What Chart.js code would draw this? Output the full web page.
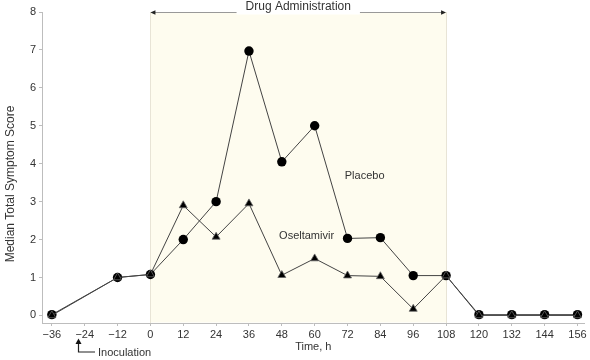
<!DOCTYPE html>
<html><head><meta charset="utf-8">
<script src="https://cdn.jsdelivr.net/npm/chart.js@4/dist/chart.umd.min.js"></script>
<style>html,body{margin:0;padding:0;background:#fff;overflow:hidden;}</style>
</head><body>
<canvas id="c" width="590" height="360" style="width:590px;height:360px;display:block"></canvas>
<script>
// ---- data ----
const hours       = [-36, -12, 0, 12, 24, 36, 48, 60, 72, 84, 96, 108, 120, 132, 144, 156];
const placebo     = [0.02, 1.0, 1.08, 2.0, 3.0, 6.97, 4.05, 5.0, 2.03, 2.05, 1.05, 1.05, 0.02, 0.02, 0.02, 0.02];
const oseltamivir = [0.0, 1.0, 1.08, 2.9, 2.07, 2.95, 1.06, 1.5, 1.05, 1.03, 0.17, 1.05, 0.0, 0.0, 0.0, 0.0];
const xTicks = [-36, -24, -12, 0, 12, 24, 36, 48, 60, 72, 84, 96, 108, 120, 132, 144, 156];
const yTicks = [0, 1, 2, 3, 4, 5, 6, 7, 8];
const dosingStart = 0, dosingEnd = 108;
const dosingLabel = 'Drug Administration';
const yTitle = 'Median Total Symptom Score';
const seriesLabels = [
  {text: 'Placebo', x: 71, y: 3.68},
  {text: 'Oseltamivir', x: 47, y: 2.1}
];
const inoculationHour = -26.3;
const inoculationLabel = 'Inoculation';

const FONT = '"Liberation Sans", Arial, Helvetica, sans-serif';
const TXT = '#333';
const AXIS = '#bdbdbd';

const toPts = (vals) => hours.map((h, i) => ({x: h, y: vals[i]}));
const fmt = (v) => v < 0 ? '\u2212' + Math.abs(v) : String(v);

const decor = {
  id: 'decor',
  beforeDatasetsDraw(chart) {
    const {ctx, chartArea: ca, scales: {x}} = chart;
    const x0 = x.getPixelForValue(dosingStart), x1 = x.getPixelForValue(dosingEnd);
    ctx.save();
    ctx.fillStyle = '#fefcef';
    ctx.fillRect(x0, ca.top, x1 - x0, ca.bottom - ca.top - 0.5);
    ctx.strokeStyle = '#e8e4d6';
    ctx.lineWidth = 1;
    ctx.beginPath();
    ctx.moveTo(Math.round(x0) + 0.5, ca.top); ctx.lineTo(Math.round(x0) + 0.5, ca.bottom);
    ctx.moveTo(Math.round(x1) + 0.5, ca.top); ctx.lineTo(Math.round(x1) + 0.5, ca.bottom);
    ctx.stroke();
    ctx.restore();
  },
  afterDatasetsDraw(chart) {
    const {ctx, chartArea: ca, scales: {x, y}} = chart;
    const x0 = x.getPixelForValue(dosingStart), x1 = x.getPixelForValue(dosingEnd);
    const ty = ca.top + 0.5;
    ctx.save();
    // top arrow line
    ctx.strokeStyle = '#999'; ctx.lineWidth = 1;
    ctx.beginPath(); ctx.moveTo(x0 + 2, ty); ctx.lineTo(x1 - 2, ty); ctx.stroke();
    ctx.fillStyle = '#222';
    ctx.beginPath(); ctx.moveTo(x0, ty); ctx.lineTo(x0 + 5, ty - 2.2); ctx.lineTo(x0 + 5, ty + 2.2); ctx.closePath(); ctx.fill();
    ctx.beginPath(); ctx.moveTo(x1, ty); ctx.lineTo(x1 - 5, ty - 2.2); ctx.lineTo(x1 - 5, ty + 2.2); ctx.closePath(); ctx.fill();
    // label with white background
    ctx.font = '12px ' + FONT;
    ctx.textAlign = 'center'; ctx.textBaseline = 'middle';
    const cx = (x0 + x1) / 2;
    const w = ctx.measureText(dosingLabel).width;
    ctx.fillStyle = '#fff';
    ctx.fillRect(cx - w / 2 - 9, 0, w + 18, ty + 2);
    ctx.fillStyle = TXT;
    ctx.fillText(dosingLabel, cx, 7);
    // series labels
    ctx.font = '11px ' + FONT;
    ctx.textAlign = 'left';
    seriesLabels.forEach(l => ctx.fillText(l.text, x.getPixelForValue(l.x), y.getPixelForValue(l.y)));
    // inoculation arrow
    const ax = Math.round(x.getPixelForValue(inoculationHour)) + 0.5;
    ctx.strokeStyle = '#222'; ctx.lineWidth = 1.2;
    ctx.beginPath(); ctx.moveTo(ax, 343); ctx.lineTo(ax, 352); ctx.lineTo(95, 352); ctx.stroke();
    ctx.fillStyle = '#111';
    ctx.beginPath(); ctx.moveTo(ax, 338.5); ctx.lineTo(ax - 3, 344); ctx.lineTo(ax + 3, 344); ctx.closePath(); ctx.fill();
    ctx.fillStyle = TXT;
    ctx.font = '11px ' + FONT;
    ctx.fillText(inoculationLabel, 98, 353);
    // y-axis title
    ctx.save();
    ctx.translate(11, 184);
    ctx.rotate(-Math.PI / 2);
    ctx.textAlign = 'center'; ctx.textBaseline = 'middle';
    ctx.font = '12px ' + FONT;
    ctx.fillText(yTitle, 0, 0);
    ctx.restore();
    ctx.restore();
  }
};

new Chart(document.getElementById('c'), {
  type: 'scatter',
  data: {
    datasets: [
      {label: 'Oseltamivir', data: toPts(oseltamivir), showLine: true,
       borderColor: '#444', borderWidth: 1, pointStyle: 'triangle', pointRadius: 4.6,
       pointBackgroundColor: '#000', pointBorderColor: '#666', pointBorderWidth: 0.8},
      {label: 'Placebo', data: toPts(placebo), showLine: true,
       borderColor: '#444', borderWidth: 1, pointStyle: 'circle', pointRadius: 4.7,
       pointBackgroundColor: '#000', pointBorderColor: '#000', pointBorderWidth: 0}
    ]
  },
  options: {
    responsive: false, animation: false, devicePixelRatio: 1,
    layout: {padding: {top: 12, right: 3, left: 0, bottom: 0}},
    plugins: {legend: {display: false}, tooltip: {enabled: false}},
    scales: {
      x: {
        type: 'linear', min: -39.6, max: 158.6,
        afterBuildTicks: s => { s.ticks = xTicks.map(v => ({value: v})); },
        afterFit: s => { s.height = 37; },
        grid: {drawOnChartArea: false, drawTicks: true, tickLength: 3, color: AXIS},
        border: {color: AXIS},
        ticks: {font: {family: FONT, size: 11}, color: TXT, padding: 2, maxRotation: 0, autoSkip: false, callback: v => fmt(v)},
        title: {display: true, text: 'Time, h', font: {family: FONT, size: 11}, color: TXT, padding: {top: 0, bottom: 6}}
      },
      y: {
        min: -0.2, max: 8,
        afterBuildTicks: s => { s.ticks = yTicks.map(v => ({value: v})); },
        afterFit: s => { s.width = 42; },
        grid: {drawOnChartArea: false, drawTicks: true, tickLength: 3, color: AXIS},
        border: {color: AXIS},
        ticks: {font: {family: FONT, size: 11}, color: TXT, padding: 3, callback: v => fmt(v)}
      }
    }
  },
  plugins: [decor]
});
</script>
</body></html>
